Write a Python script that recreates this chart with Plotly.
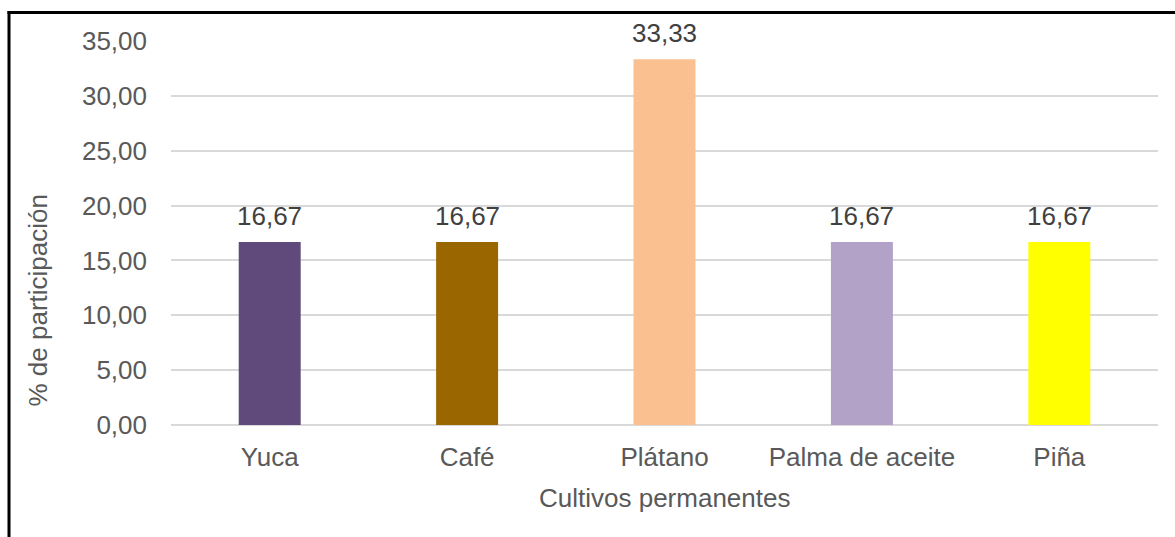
import plotly.graph_objects as go

categories = ["Yuca", "Café", "Plátano", "Palma de aceite", "Piña"]
values = [16.67, 16.67, 33.33, 16.67, 16.67]
colors = ["#604A7B", "#996600", "#FAC090", "#B3A2C7", "#FFFF00"]
y_ticks = [0, 5, 10, 15, 20, 25, 30, 35]

FONT = "Liberation Sans, Arial, sans-serif"
FS = 26

fig = go.Figure()
fig.add_trace(go.Bar(
    x=categories, y=values, marker=dict(color=colors, line=dict(width=0)),
    width=0.314, showlegend=False,
))

for c, v in zip(categories, values):
    fig.add_annotation(x=c, y=v, text=f"{v:.2f}".replace(".", ","), showarrow=False,
                       yshift=26, font=dict(family=FONT, size=FS, color="#404040"))

L, R, T, B = 171, 17, 41, 112
W, H = 1175, 537
pw, ph = W - L - R, H - T - B

def px(x):
    return (x - L) / pw

def py(y):
    return (H - B - y) / ph

# axis titles
fig.add_annotation(xref="paper", yref="paper", x=px(37.5), y=py(301), text="% de participación",
                   textangle=-90, showarrow=False, xanchor="center", yanchor="middle",
                   font=dict(family=FONT, size=FS, color="#595959"))
fig.add_annotation(xref="paper", yref="paper", x=px(664.5), y=py(498), text="Cultivos permanentes",
                   showarrow=False, xanchor="center", yanchor="middle",
                   font=dict(family=FONT, size=FS, color="#595959"))

# outer border fragments
fig.add_shape(type="line", xref="paper", yref="paper", x0=px(9), x1=px(9), y0=py(11), y1=py(540),
              line=dict(color="black", width=3))
fig.add_shape(type="line", xref="paper", yref="paper", x0=px(7.5), x1=px(1180), y0=py(12.5), y1=py(12.5),
              line=dict(color="black", width=3))

fig.update_layout(
    width=W, height=H,
    margin=dict(l=L, r=R, t=T, b=B, autoexpand=False),
    paper_bgcolor="white", plot_bgcolor="white",
    separators=",.",
    font=dict(family=FONT, size=FS, color="#595959"),
    xaxis=dict(showline=False, ticks="", tickfont=dict(size=FS, color="#595959"), showgrid=False,
               ticklabelstandoff=14),
    yaxis=dict(range=[0, 35], tickvals=y_ticks, tickformat=".2f", showgrid=True,
               gridcolor="#D9D9D9", gridwidth=1.5, zeroline=True, zerolinecolor="#D9D9D9",
               zerolinewidth=1.5, showline=False, ticks="", tickfont=dict(size=FS, color="#595959"),
               ticklabelstandoff=23),
)

fig.write_html("out.html", config={"displayModeBar": False},
               post_script="document.body.style.margin='0';")
